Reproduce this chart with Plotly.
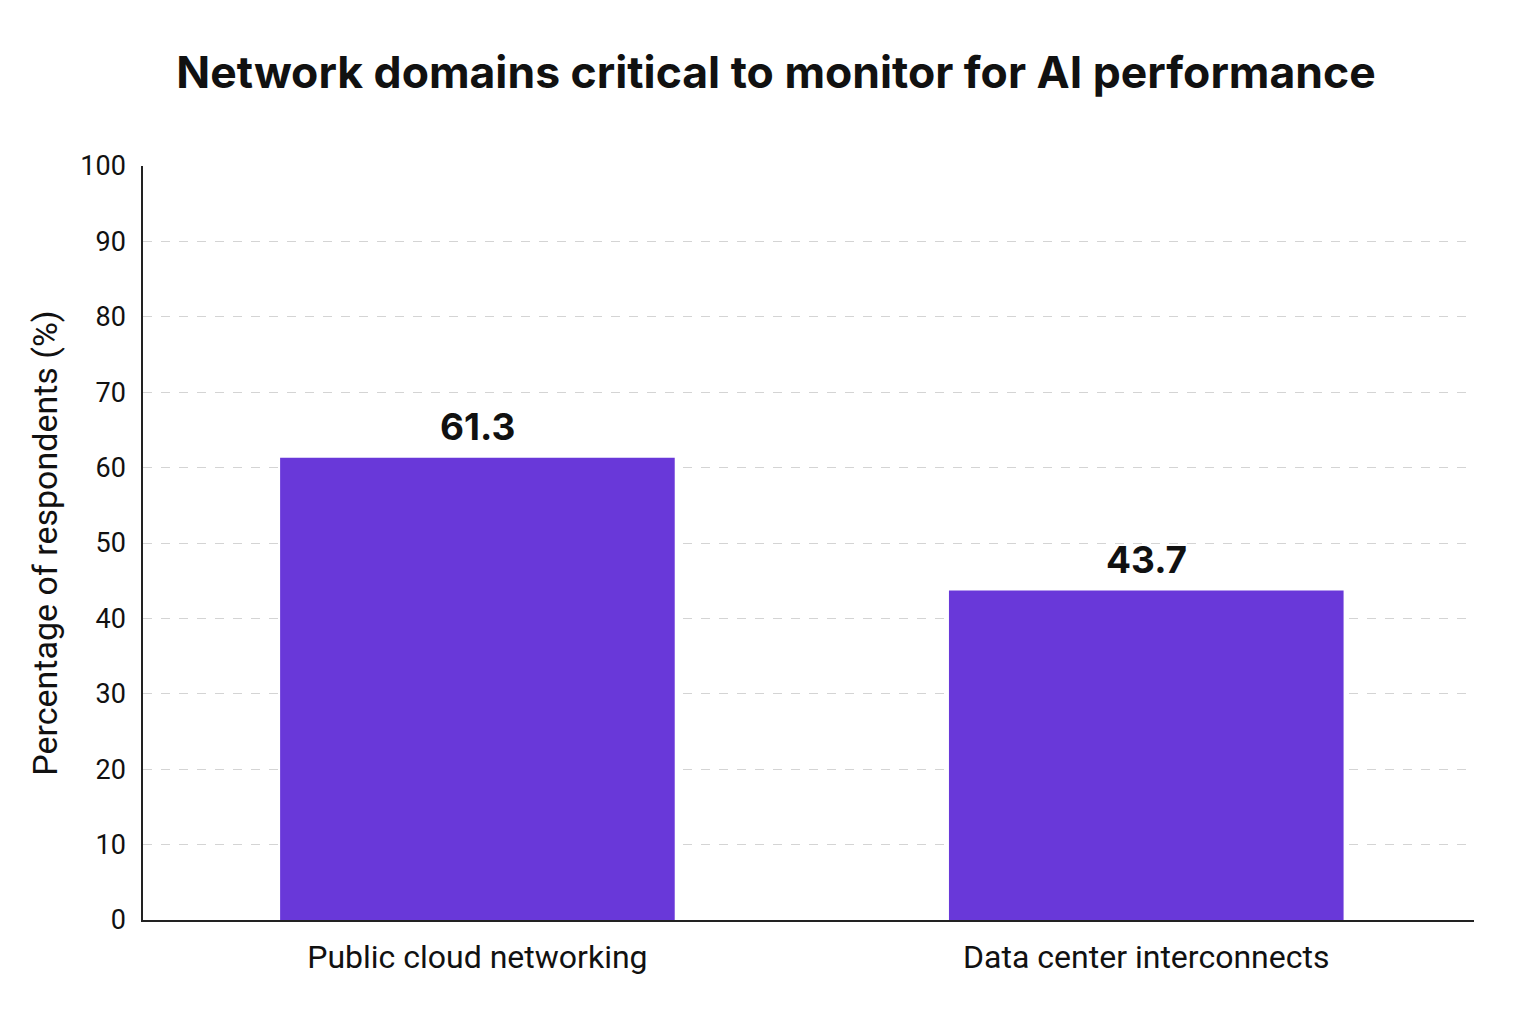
import plotly.graph_objects as go

# Survey data
categories = ["Public cloud networking", "Data center interconnects"]
shares = [61.3, 43.7]
y_ticks = [0, 10, 20, 30, 40, 50, 60, 70, 80, 90, 100]

BAR_COLOR = "#6938D9"
FONT = "Inter, Roboto, sans-serif"

fig = go.Figure()
fig.add_trace(go.Bar(
    x=categories, y=shares,
    marker=dict(color=BAR_COLOR, line=dict(width=0)),
    width=0.59, showlegend=False, hoverinfo="skip",
))

# value labels sit a little above each bar
for cat, val in zip(categories, shares):
    fig.add_annotation(
        x=cat, y=val, text=f"<b>{val:.1f}</b>", showarrow=False,
        yanchor="bottom", yshift=7,
        font=dict(family=FONT, size=37, color="#111111"),
    )

fig.update_layout(
    width=1536, height=1024,
    paper_bgcolor="white", plot_bgcolor="white",
    margin=dict(l=135, r=70, t=158, b=112),
    title=dict(
        text="<b>Network domains critical to monitor for AI performance</b>",
        x=0.5, xanchor="center", y=0.9375, yanchor="middle",
        font=dict(family=FONT, size=44.5, color="#111111"),
    ),
    font=dict(family="Roboto, sans-serif", color="#111111"),
)

fig.update_xaxes(
    range=[-0.5, 1.49],
    showline=True, linecolor="#222222", linewidth=1.5,
    showgrid=False, ticks="", tickfont=dict(size=32, family="Roboto, sans-serif"),
    ticklabelstandoff=8,
)
fig.update_yaxes(
    range=[0, 100], tickvals=y_ticks,
    showline=True, linecolor="#222222", linewidth=1.5,
    showgrid=True, gridcolor="#d4d4d4", griddash="dash", gridwidth=1,
    zeroline=False, ticks="", ticklabelstandoff=10,
    tickfont=dict(size=27, family="Roboto, sans-serif"),
    title=dict(text="Percentage of respondents (%)", standoff=12,
               font=dict(size=34, family="Roboto, sans-serif")),
)

fig.write_html("out.html")
